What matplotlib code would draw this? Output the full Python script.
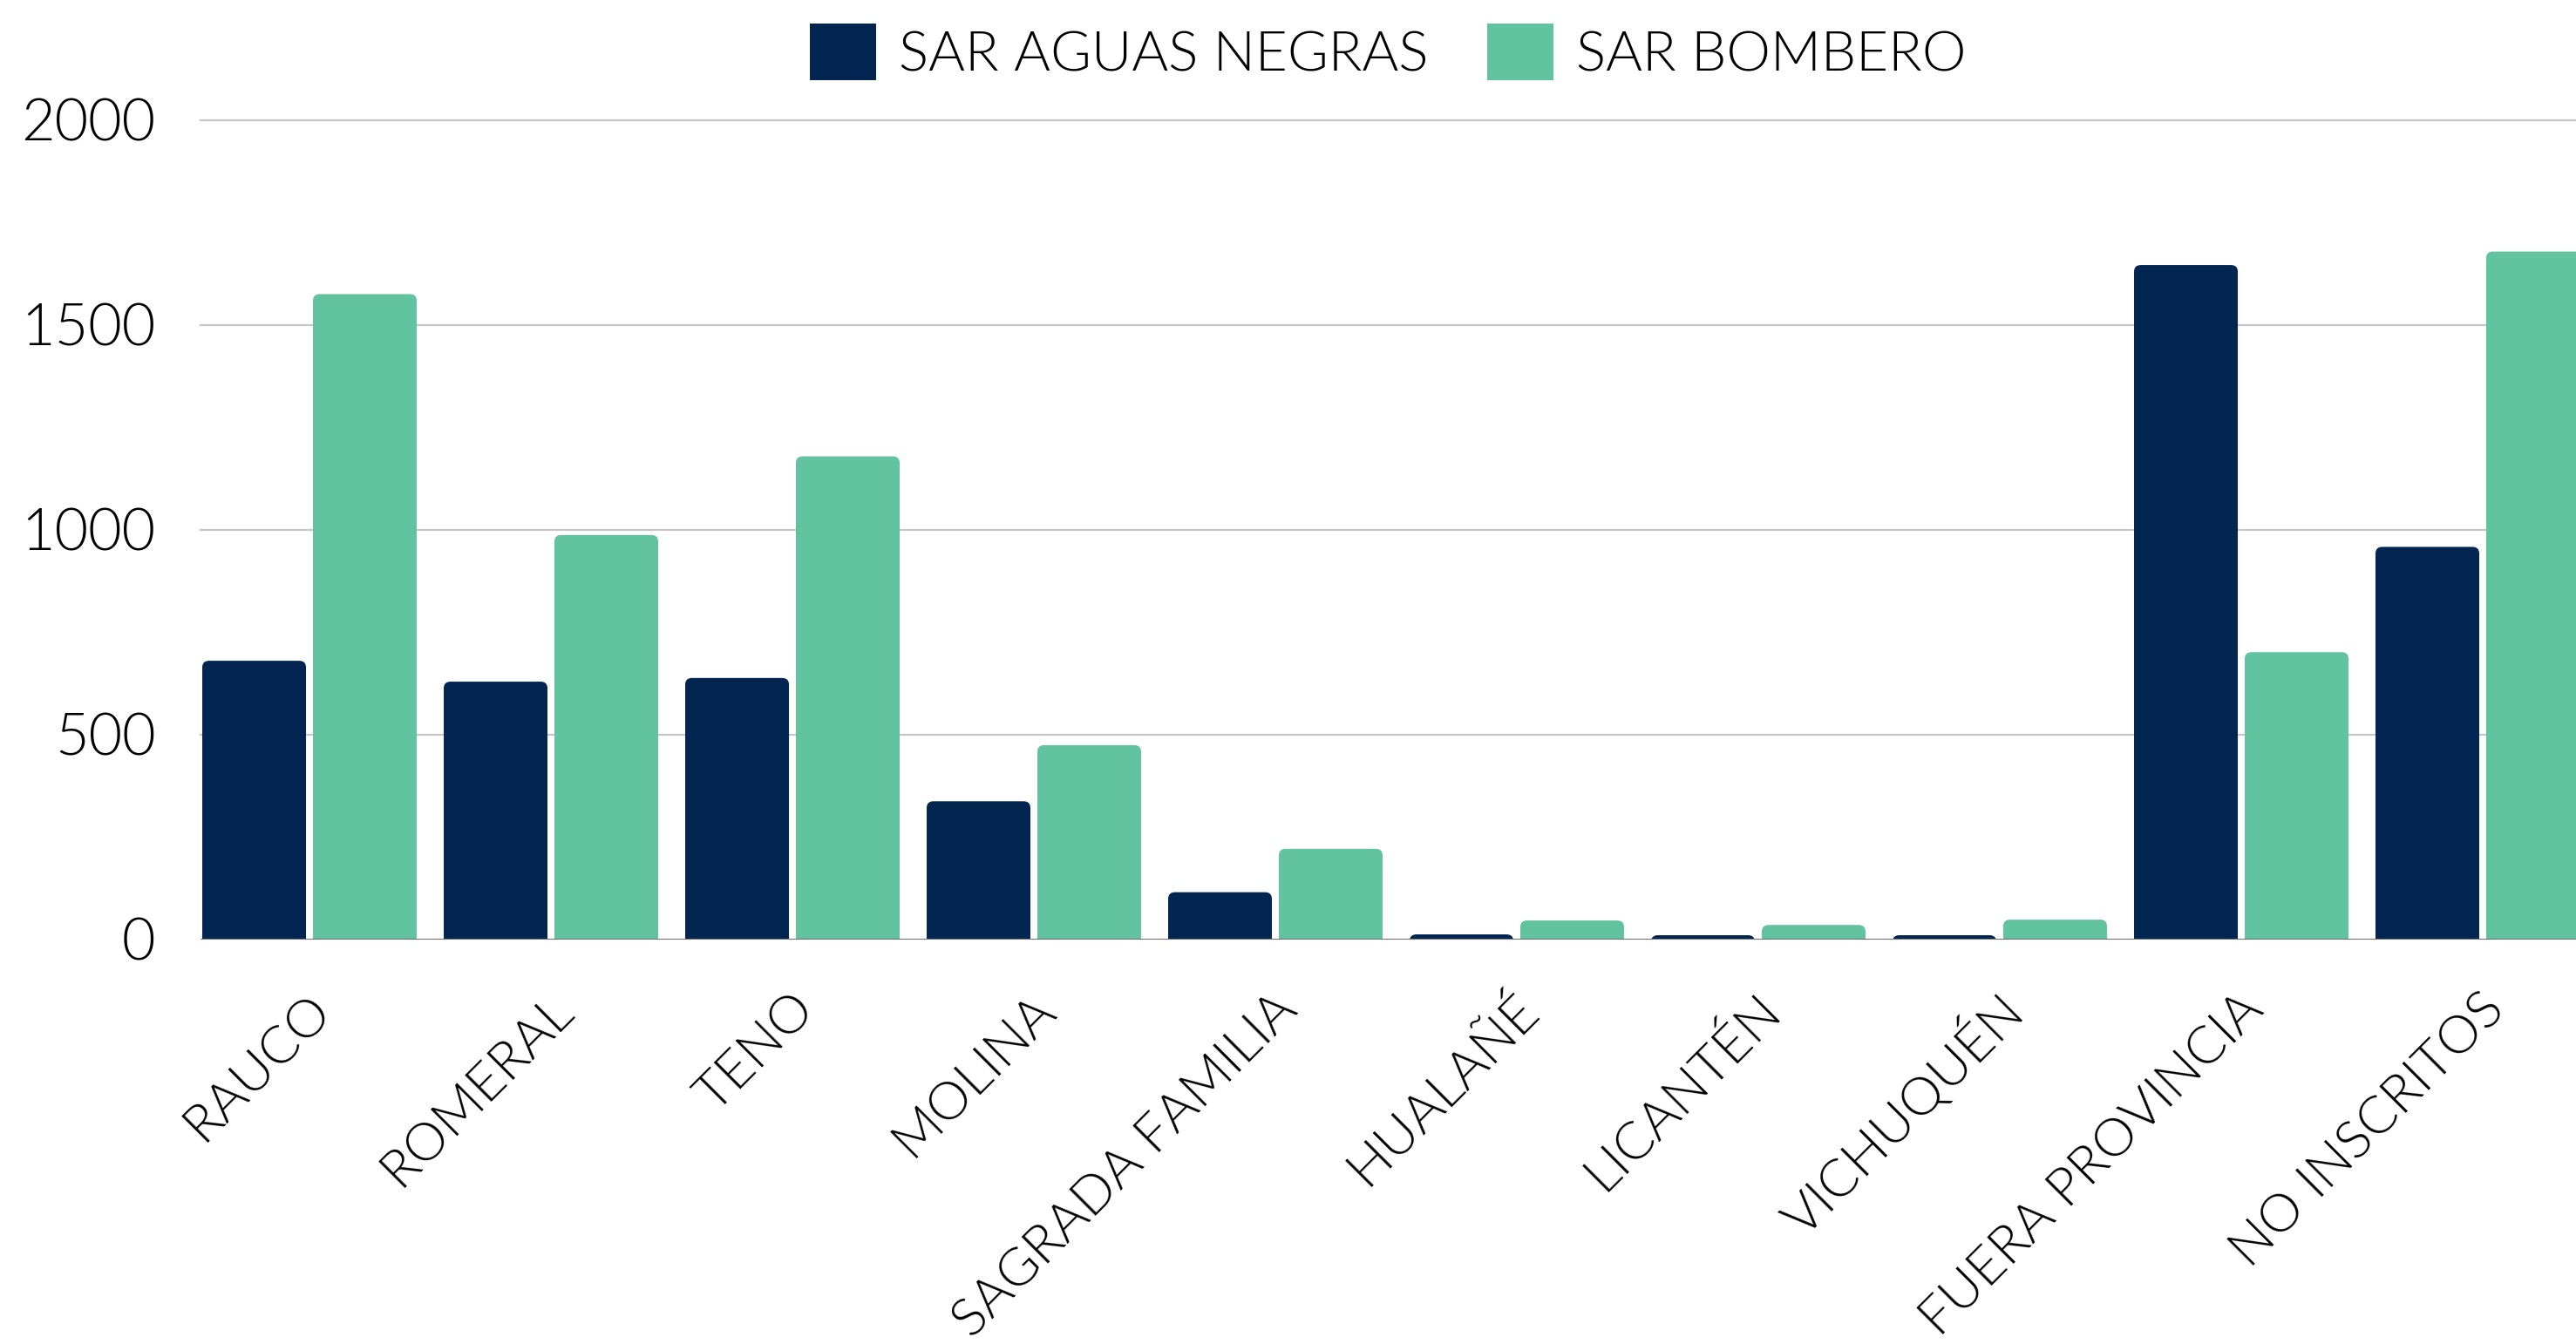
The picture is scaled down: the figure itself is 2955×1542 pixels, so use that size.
import matplotlib
matplotlib.use("Agg")
import matplotlib.pyplot as plt
import numpy as np
from matplotlib.patches import FancyBboxPatch
from matplotlib.transforms import ScaledTranslation

categories = ["RAUCO", "ROMERAL", "TENO", "MOLINA", "SAGRADA FAMILIA",
              "HUALAÑÉ", "LICANTÉN", "VICHUQUÉN", "FUERA PROVINCIA", "NO INSCRITOS"]
aguas_negras = [680, 629, 638, 337, 115, 12, 10, 10, 1646, 958]
bombero = [1575, 987, 1179, 474, 221, 46, 35, 48, 701, 1679]
series_names = ["SAR AGUAS NEGRAS", "SAR BOMBERO"]
yticks = [0, 500, 1000, 1500, 2000]

DARK = "#022552"
GREEN = "#62c3a1"
FONT = ["Lato", "DejaVu Sans"]
WEIGHT = 300

W, H = 2955, 1542
fig = plt.figure(figsize=(W / 100, H / 100), dpi=100)
ax_left, ax_bottom_px, ax_top_px = 230, 1077.7, 137.7
ax = fig.add_axes([ax_left / W, (H - ax_bottom_px) / H, (W - ax_left) / W, (ax_bottom_px - ax_top_px) / H])

x = np.arange(len(categories))
bw = 0.4296
off = 0.2292
b1 = ax.bar(x - off, aguas_negras, width=bw, color=DARK, label=series_names[0], zorder=2)
b2 = ax.bar(x + off, bombero, width=bw, color=GREEN, label=series_names[1], zorder=2)

# rounded top corners: replace rectangles with rounded boxes extending below the baseline
rx = 0.028
ry = 16.0
for bars, col in ((b1, DARK), (b2, GREEN)):
    for r in bars:
        r.set_visible(False)
        x0, w, h = r.get_x(), r.get_width(), r.get_height()
        p = FancyBboxPatch((x0, -60), w, h + 60,
                           boxstyle=f"round,pad=0,rounding_size={rx}",
                           mutation_aspect=ry / rx, facecolor=col, edgecolor="none",
                           zorder=2, clip_on=True)
        ax.add_patch(p)

ax.set_ylim(0, 2000)
ax.set_xlim(-0.4513, (W - 355) / 277.0)
ax.set_yticks(yticks)
ax.set_yticklabels([str(v) for v in yticks], fontsize=48, family=FONT, fontweight=WEIGHT, color="black")
ax.tick_params(axis="y", length=0, pad=37)
ax.set_xticks([])
for s in ax.spines.values():
    s.set_visible(False)
for v in yticks[1:]:
    ax.axhline(v, color="#c6c6c6", lw=1.6, zorder=1, clip_on=False)
ax.axhline(0, color="#6f6f6f", lw=1.5, zorder=3)

trans = ax.get_xaxis_transform() + ScaledTranslation(0.16, -0.72, fig.dpi_scale_trans)
for i, c in enumerate(categories):
    ax.text(i, 0, c, transform=trans, rotation=45, ha="right", va="center",
            rotation_mode="anchor", fontsize=44, family=FONT, fontweight=WEIGHT, color="black")

leg = fig.legend(handles=[b1, b2], labels=series_names, loc="center",
                 bbox_to_anchor=(1592 / W, 1 - 59.5 / H), ncol=2, frameon=False,
                 prop={"family": FONT, "size": 46, "weight": WEIGHT},
                 handlelength=1.2, handleheight=1.2, handletextpad=0.4,
                 columnspacing=1.05, borderpad=0)
for h in leg.legend_handles:
    h.set_visible(True)

fig.savefig("out.png", dpi=100, facecolor="white")
